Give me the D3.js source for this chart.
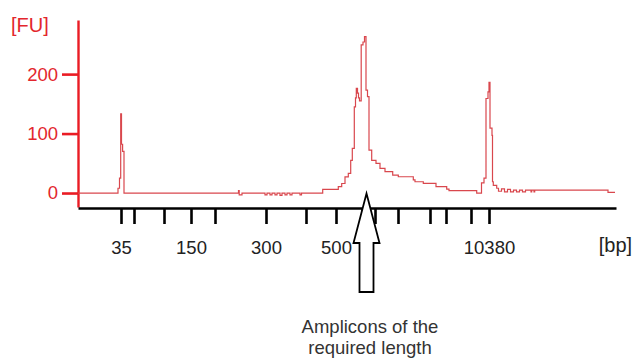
<!DOCTYPE html>
<html>
<head>
<meta charset="utf-8">
<script src="https://cdn.jsdelivr.net/npm/d3@7"></script>
<style>
  body { margin: 0; background: #fff; }
  svg { display: block; font-family: "Liberation Sans", Arial, Helvetica, sans-serif; }
</style>
</head>
<body>
<div id="container"></div>
<script>
// ladder peaks: size in bp and position as data point index along the run
const ladderBp = [35, 50, 100, 150, 200, 300, 400, 500, 600, 700, 1000, 2000, 3000, 7000, 10380];
const ladderIdx = [43, 56, 86, 113, 137, 188, 228, 258, 284, 297, 320, 352, 368, 393, 411];
const labeledBp = [35, 150, 300, 500, 10380];
const fuTicks = [0, 100, 200];

// electropherogram trace, step data: [data point index, fluorescence FU]
const traceIdx = [0, 40, 41.5, 42.7, 43.5, 44.6, 46,
  160.5, 161.2, 164,
  187, 189, 192, 194, 197, 199, 202, 204, 207, 209, 212, 214, 222, 223.5,
  244.7, 260.3, 263.7, 267, 270.3, 272.7, 274.3, 276.3, 277.5, 278.3, 279.5, 280.5, 281.5,
  283.2, 285, 286.5, 288, 289.5, 291, 293.7, 298, 302, 307, 314.7, 320.3, 335.3, 337,
  345.3, 358, 368.7, 371, 398.7, 403.5, 406, 408, 410, 411, 412, 414, 414.5, 415.3, 418.7,
  420.5, 423.5, 426.5, 429.5, 432.5, 435.5, 438.5, 441.5, 444.5, 447.5, 453, 453.7, 456, 456.7,
  530, 537];
const traceFU = [0, 8, 25, 133, 82, 70, 0,
  4, -3, 0,
  -3, 0, -3, 0, -3, 0, -4, 0, -3, 0, -3, 0, -3, 0,
  6, 10.6, 16, 27, 33, 55, 75, 145, 160, 176, 168, 160, 155,
  249, 254, 263, 173, 162, 72, 55, 50, 41.5, 36, 30, 27.4, 22, 19,
  16.3, 10.6, 6.7, 4, 0, 17, 25, 159, 170, 186, 109, 97, 19, 13, 8,
  3, 7, 2, 6, 2, 5, 2, 5, 2, 5, 2, 5, 2, 5,
  1, 1];

const ampliconIdx = 290;
const annotationLines = ["Amplicons of the", "required length"];

const w = 634;
const h = 358;
const red = "#ea1c24";
const traceColor = "#d9474d";

const svg = d3.select("#container").append("svg")
  .attr("width", w)
  .attr("height", h);

const x = d3.scaleLinear().domain([0, 538]).range([78, 616]);
const y = d3.scaleLinear().domain([-23.5, 291]).range([207, 20]);

// y axis (FU)
const yAxis = d3.axisLeft(y)
  .tickValues(fuTicks)
  .tickSize(16)
  .tickSizeOuter(0)
  .tickPadding(4);
const yg = svg.append("g")
  .attr("transform", "translate(78,0)")
  .call(yAxis);
yg.select(".domain").attr("stroke", red).attr("stroke-width", 2.4);
yg.selectAll(".tick line").attr("stroke", red).attr("stroke-width", 2.6);
yg.selectAll(".tick text")
  .attr("fill", "#e3262d")
  .style("font-size", "18.5px")
  .style("font-family", "'Liberation Sans', Arial, sans-serif");

svg.append("text")
  .attr("x", 11)
  .attr("y", 32)
  .attr("fill", "#e3262d")
  .style("font-size", "20px")
  .text("[FU]");

// trace
const line = d3.line()
  .x((d, i) => x(traceIdx[i]))
  .y(d => y(d))
  .curve(d3.curveStepAfter);

svg.append("path")
  .datum(traceFU)
  .attr("d", line)
  .attr("fill", "none")
  .attr("stroke", traceColor)
  .attr("stroke-width", 1.2);

// x axis (bp)
const xAxis = d3.axisBottom(x)
  .tickValues(ladderIdx)
  .tickSize(16)
  .tickSizeOuter(0)
  .tickPadding(17)
  .tickFormat((d, i) => labeledBp.includes(ladderBp[i]) ? ladderBp[i] : "");
const xg = svg.append("g")
  .attr("transform", "translate(0,208)")
  .call(xAxis);
xg.select(".domain").attr("stroke", "#000").attr("stroke-width", 2.4);
xg.selectAll(".tick line").attr("stroke", "#000").attr("stroke-width", 2.6);
xg.selectAll(".tick text")
  .attr("fill", "#222")
  .style("font-size", "18.5px")
  .style("font-family", "'Liberation Sans', Arial, sans-serif");

svg.append("text")
  .attr("x", 615.5)
  .attr("y", 252)
  .attr("text-anchor", "middle")
  .attr("fill", "#222")
  .style("font-size", "20px")
  .text("[bp]");

// hollow arrow pointing at the amplicon peak
const ax = x(ampliconIdx) - 1.5;
const arrow = d3.path();
arrow.moveTo(ax, 193.5);
arrow.lineTo(ax + 13, 243);
arrow.lineTo(ax + 7, 243);
arrow.lineTo(ax + 7, 292);
arrow.lineTo(ax - 7, 292);
arrow.lineTo(ax - 7, 243);
arrow.lineTo(ax - 13, 243);
arrow.closePath();
svg.append("path")
  .attr("d", arrow.toString())
  .attr("fill", "#fff")
  .attr("stroke", "#000")
  .attr("stroke-width", 1.8)
  .attr("stroke-linejoin", "miter");

svg.append("g").selectAll("text")
  .data(annotationLines)
  .enter()
  .append("text")
  .attr("x", ax + 3.5)
  .attr("y", (d, i) => 333 + i * 21)
  .attr("text-anchor", "middle")
  .attr("fill", "#333")
  .style("font-size", "18.5px")
  .text(d => d);
</script>
</body>
</html>
